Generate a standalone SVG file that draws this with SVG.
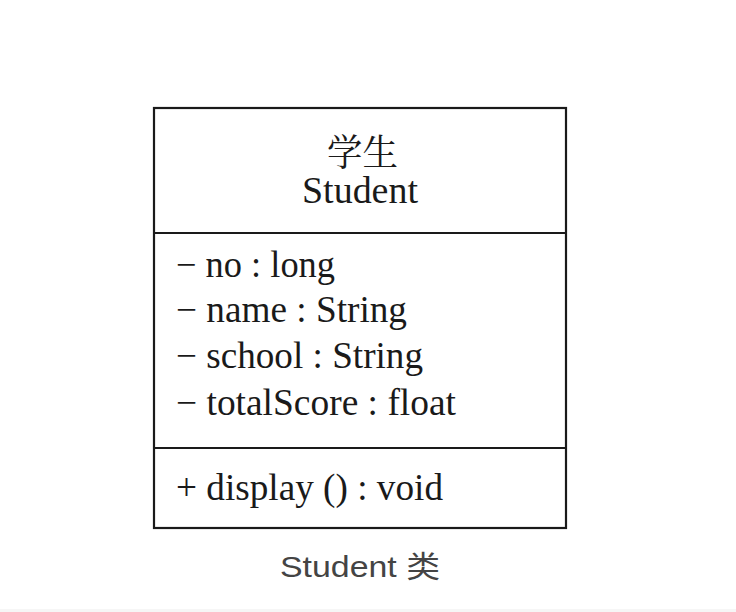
<svg xmlns="http://www.w3.org/2000/svg" width="736" height="612" viewBox="0 0 736 612">
<style>
.box{fill:#fff;stroke:#1a1a1a;stroke-width:2.2}
.div{stroke:#1a1a1a;stroke-width:2.2}
.t{font-family:"Liberation Serif","Noto Serif CJK SC","Noto Sans CJK SC",serif;font-size:37px;fill:#1a1a1a}
.cap{font-family:"Liberation Sans","Noto Sans CJK SC",sans-serif;font-size:30px;fill:#444}
</style>
<rect x="0" y="0" width="736" height="612" fill="#fff"/>
<rect x="0" y="609" width="736" height="3" fill="#f6f6f6"/>
<g id="student-class">
<rect class="box" x="154" y="108" width="412" height="420"/>
<line class="div" x1="154" y1="233" x2="566" y2="233"/>
<line class="div" x1="154" y1="448" x2="566" y2="448"/>
<text class="t" x="327" y="166" font-size="35" textLength="71" lengthAdjust="spacingAndGlyphs">学生</text>
<text class="t" x="302" y="203" textLength="116" lengthAdjust="spacingAndGlyphs">Student</text>
<text class="t" x="176" y="277" textLength="159" lengthAdjust="spacingAndGlyphs">− no : long</text>
<text class="t" x="176" y="322" textLength="231" lengthAdjust="spacingAndGlyphs">− name : String</text>
<text class="t" x="176" y="368" textLength="247" lengthAdjust="spacingAndGlyphs">− school : String</text>
<text class="t" x="176" y="415" textLength="280" lengthAdjust="spacingAndGlyphs">− totalScore : float</text>
<text class="t" x="176" y="500" textLength="267" lengthAdjust="spacingAndGlyphs">+ display () : void</text>
</g>
<g id="connectors"/>
<text class="cap" x="280" y="577" textLength="160" lengthAdjust="spacingAndGlyphs">Student 类</text>
</svg>
